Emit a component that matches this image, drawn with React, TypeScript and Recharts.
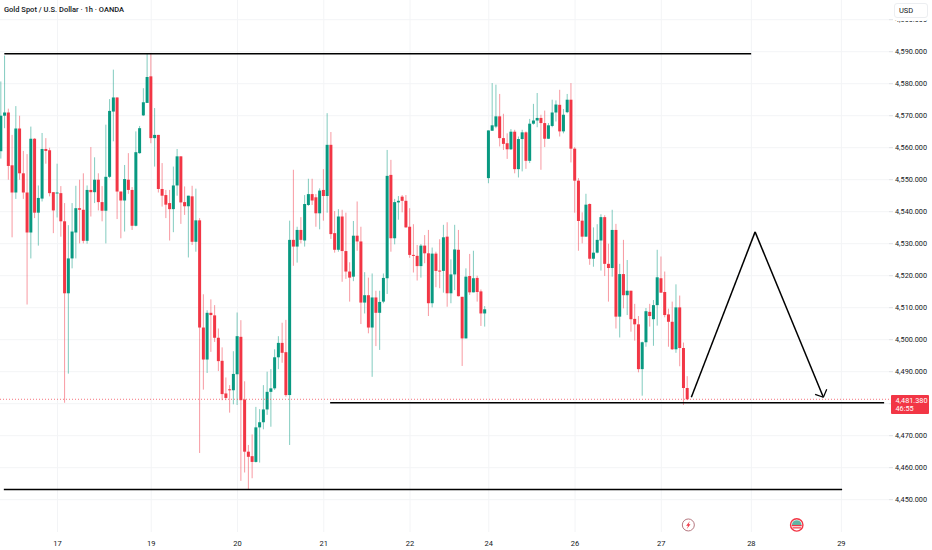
import React from "react";
import {
  Bar,
  CartesianGrid,
  ComposedChart,
  ReferenceDot,
  ReferenceLine,
  XAxis,
  YAxis,
} from "recharts";

const opens = [
  4558.9, 4570, 4571, 4554.5, 4546, 4566, 4552, 4546, 4533.5, 4562.8,
  4539.7, 4544.1, 4559.6, 4559.2, 4546.1, 4545.8, 4545.8, 4537, 4514.5, 4525.4,
  4533.5, 4541.1, 4540.6, 4530.9, 4546.8, 4546.1, 4550, 4543, 4540.3, 4550.9,
  4571.3, 4575.7, 4546.3, 4543.5, 4550, 4546.8, 4535.6, 4558.3, 4570.1, 4574,
  4582.3, 4563, 4564, 4547.1, 4545.2, 4542.7, 4540.8, 4548.2, 4557.3, 4543,
  4541.7, 4544.8, 4530.6, 4537.3, 4503.8, 4493.8, 4508.4, 4507.6, 4500.6, 4493.4,
  4483.2, 4484.5, 4484.2, 4489.2, 4500.9, 4481.3, 4465, 4463.6, 4461.8, 4472.6,
  4474.2, 4478.2, 4483.7, 4484.8, 4494.5, 4499, 4496.1, 4482.7, 4531.2, 4529.1,
  4534.3, 4531, 4542.1, 4545.5, 4544.5, 4539.5, 4546.8, 4544.9, 4560.9, 4533.3,
  4528.1, 4538.5, 4527.7, 4521.3, 4519.7, 4532.5, 4530.7, 4511.6, 4513.9, 4503.8,
  4513.2, 4508.4, 4511.9, 4519.2, 4551.5, 4531.7, 4542.9, 4544.7, 4543.4, 4535.3,
  4526.5, 4526.2, 4523, 4529.4, 4527, 4511.4, 4526.9, 4521.6, 4521.5, 4532.2,
  4514.5, 4520.4, 4528.1, 4513.4, 4500.4, 4519.9, 4514.8, 4519.3, 4515.1, 4508.2,
  4550.5, 4565.3, 4566.6, 4569.8, 4563, 4561.4, 4559.5, 4565, 4553.3, 4562.7,
  4564.8, 4555.9, 4567.5, 4568.5, 4569.3, 4567.7, 4562.8, 4566.8, 4571, 4573.4,
  4565.1, 4571.1, 4575, 4559.7, 4549.7, 4537.2, 4532.2, 4542.4, 4525.3, 4527.2,
  4531, 4538.3, 4523.7, 4522.4, 4534.3, 4507.2, 4520.5, 4513.9, 4515.3, 4506.5,
  4504.8, 4490.8, 4499.2, 4508.7, 4506.4, 4510.8, 4519.2, 4514.9, 4507.9, 4505.6,
  4497, 4510.1, 4497.4, 4484.9,
];

const highs = [
  4580.7, 4588.8, 4572.2, 4564, 4573, 4570, 4559, 4558, 4566.6, 4563,
  4548.2, 4564.6, 4563, 4560, 4546.1, 4555, 4548, 4542.7, 4535.8, 4542.7,
  4548.1, 4550, 4552, 4548.2, 4560.2, 4557, 4552, 4548, 4567.2, 4575.2,
  4584.4, 4575.7, 4546.3, 4554.6, 4558.3, 4547.7, 4565.1, 4566.8, 4578.6, 4589.4,
  4589.6, 4572.4, 4564, 4555.2, 4546.8, 4546.8, 4554.1, 4559.6, 4557.3, 4547.9,
  4545, 4548.1, 4547.2, 4538, 4514.2, 4509.2, 4512.6, 4510.8, 4503.5, 4497.6,
  4488.2, 4485.8, 4496.4, 4508.5, 4506.1, 4487, 4467.1, 4470.4, 4479, 4478.3,
  4485.8, 4490, 4490.8, 4497, 4501.1, 4505.3, 4506.2, 4537.2, 4553.1, 4535.3,
  4538.3, 4545.2, 4550.3, 4550.3, 4545.5, 4547.3, 4553.3, 4570.8, 4564.9, 4540.2,
  4540.8, 4540.6, 4539.7, 4524.2, 4537.1, 4543.2, 4535.3, 4521.1, 4519.4, 4520.7,
  4515.3, 4515.3, 4520.7, 4559.3, 4556.2, 4544, 4544.9, 4545.2, 4545.2, 4541.1,
  4536.1, 4529.6, 4529.9, 4532.7, 4534.3, 4528.8, 4527.5, 4531.4, 4535.9, 4536.7,
  4525.1, 4535.9, 4534.3, 4513.4, 4522.3, 4526.8, 4527.8, 4520, 4515.7, 4510.5,
  4565.4, 4580.2, 4579.7, 4576.8, 4570.6, 4564.5, 4565.8, 4565.6, 4563.5, 4565.6,
  4565.1, 4569, 4573.7, 4577.1, 4570.3, 4571.6, 4567.7, 4575, 4574.8, 4578.1,
  4572.1, 4576.8, 4580.2, 4560.2, 4550.5, 4539.8, 4545.6, 4542.6, 4535.1, 4536.1,
  4539.2, 4538.9, 4530, 4540.6, 4536.2, 4523.7, 4531.2, 4524.9, 4515.3, 4511.2,
  4507.4, 4499.4, 4509.9, 4511.2, 4512.4, 4528.1, 4526, 4521.3, 4509.7, 4511.9,
  4517.3, 4513.8, 4499.1, 4488.6,
];

const lows = [
  4556.6, 4566.1, 4550, 4532, 4544, 4550, 4544, 4511, 4525.4, 4538,
  4529.4, 4543.2, 4555, 4544.8, 4533.3, 4538.2, 4532.2, 4480.3, 4489.4, 4522.3,
  4525.4, 4530.1, 4530.1, 4530, 4538.5, 4542.7, 4540.4, 4537, 4530.1, 4550.5,
  4562, 4537.7, 4531.7, 4533.8, 4545.6, 4534.3, 4535.4, 4558.1, 4569.9, 4574,
  4561.4, 4554.1, 4546, 4541.6, 4538, 4531, 4533.6, 4545, 4536.2, 4539,
  4525.7, 4529.6, 4527.5, 4464.6, 4484.4, 4489.6, 4496.2, 4499.3, 4490.2, 4481.1,
  4481.1, 4477.2, 4479.8, 4479.6, 4455.9, 4458.5, 4453.3, 4456.7, 4461.6, 4461.6,
  4472, 4476.5, 4472.8, 4484.3, 4490.8, 4492.8, 4482.2, 4467.1, 4523.1, 4524.1,
  4530.1, 4529.1, 4541.8, 4542.1, 4535.3, 4534.5, 4537.2, 4539.7, 4531.5, 4527.2,
  4527.5, 4518.1, 4519, 4511.9, 4518.3, 4527.8, 4504.9, 4508.2, 4502, 4488.4,
  4498, 4496.8, 4511.4, 4514.3, 4527.5, 4529.8, 4537.5, 4539.8, 4535, 4525.6,
  4521, 4518.5, 4519.4, 4523.9, 4507.4, 4510.1, 4516.4, 4516.1, 4514.7, 4510.3,
  4511.4, 4515.5, 4513.5, 4491.8, 4500.4, 4514, 4514.8, 4511.9, 4504.3, 4504.1,
  4548.9, 4565.3, 4566.1, 4560.4, 4559.3, 4556.5, 4559.3, 4552, 4550.7, 4552.6,
  4553.4, 4555.2, 4567.2, 4566.4, 4553.1, 4560.2, 4562.7, 4566.4, 4568.2, 4563.5,
  4564.5, 4570.8, 4555.4, 4539.7, 4527.8, 4530.1, 4532.2, 4523.4, 4522.8, 4527,
  4521.6, 4519.9, 4511.9, 4519.7, 4503.5, 4500.7, 4509.8, 4507.7, 4502.5, 4499.7,
  4489.8, 4482.5, 4497.8, 4504.1, 4498.1, 4504.4, 4514.7, 4507, 4497.8, 4496.8,
  4495.9, 4491.7, 4479.6, 4481.1,
];

const closes = [
  4570, 4571, 4554.3, 4546, 4566, 4552, 4546, 4533.5, 4562.8, 4539.7,
  4544.3, 4559.6, 4559, 4545.8, 4540.4, 4546, 4537, 4514.5, 4525.4, 4533.8,
  4541.1, 4540.6, 4530.9, 4546.8, 4546.1, 4550, 4543, 4540.3, 4550.9, 4571.5,
  4575.7, 4546.3, 4543.5, 4550.2, 4546.8, 4535.6, 4558.6, 4566.1, 4574.2, 4582.1,
  4563, 4564, 4547.1, 4545, 4542.2, 4540.8, 4548.2, 4557.3, 4542.9, 4541.7,
  4545, 4530.6, 4537.3, 4503.8, 4493.8, 4508.4, 4507.7, 4500.6, 4493.3, 4483,
  4481.8, 4484.3, 4489.3, 4501.1, 4481.1, 4465, 4463.4, 4461.8, 4472.6, 4474.2,
  4478.2, 4483.7, 4484.8, 4494.5, 4499, 4495.9, 4482.7, 4531.2, 4529.1, 4534.3,
  4531.2, 4542.4, 4545.5, 4543.5, 4539.5, 4546.6, 4544.9, 4560.9, 4533, 4528.1,
  4538.5, 4527.7, 4521.3, 4519.4, 4532.5, 4530.7, 4511.6, 4513.9, 4503.8, 4513.2,
  4508.4, 4511.8, 4519.3, 4551.2, 4531.7, 4543, 4543.4, 4543.4, 4535.1, 4526.5,
  4526.2, 4523, 4529.4, 4527, 4511.4, 4526.9, 4521.5, 4521.5, 4532, 4514.5,
  4520.4, 4528.2, 4513.6, 4500.4, 4519.7, 4514.8, 4519.2, 4514.9, 4508.2, 4509.5,
  4565.4, 4567, 4569.8, 4563, 4561.2, 4559.5, 4565, 4553.3, 4562.7, 4564.8,
  4555.9, 4567.5, 4568.5, 4569.3, 4567.7, 4562.8, 4567, 4571, 4573.5, 4565.1,
  4570.3, 4575, 4559.7, 4549.7, 4537.1, 4532.2, 4542.2, 4525.3, 4527.2, 4531.2,
  4538.3, 4523.7, 4522.4, 4534.3, 4507.2, 4520.5, 4513.9, 4515.3, 4506.4, 4504.8,
  4490.8, 4499.2, 4508.9, 4507.4, 4510.8, 4519.5, 4514.7, 4507.7, 4505.6, 4497,
  4510.1, 4497.4, 4484.9, 4481.38,
];

const dayTicks = [15, 40, 63, 86, 109, 130, 153, 176, 200, 224];
const dayLabels = ["17", "19", "20", "21", "22", "24", "26", "27", "28", "29"];
const priceTicks = [
  4450, 4460, 4470, 4480, 4490, 4500, 4510, 4520, 4530, 4540, 4550, 4560, 4570,
  4580, 4590, 4600,
];
// the last price tag sits on top of this tick in the original
const hiddenPriceTick = 4480;

const lastPrice = 4481.38;
const lastPriceText = "4,481.380";
const countdownText = "46:55";

// drawn trend lines, in bar index / price
const levelStarts = [0.83, 87.7, 0.7];
const levelEnds = [199.95, 235.4, 224.2];
const levelPrices = [4589.4, 4480.3, 4453.2];

const arrowBars = [184, 201, 219.2];
const arrowPrices = [4482, 4533.7, 4482];
const headBars = [217, 220.1];
const headPrices = [4482.9, 4484.5];

const UP = "#089981";
const DOWN = "#f23645";
const TEXT = "#131722";
const FONT = "Roboto, sans-serif";

const candles = opens.map((open, i) => ({
  i,
  open,
  high: highs[i],
  low: lows[i],
  close: closes[i],
}));

function Candle(props: any) {
  const { x, y, width, height, payload } = props;
  const { open, close, high, low } = payload;
  const color = close >= open ? UP : DOWN;
  const perPrice = height / (high - low);
  const top = y + (high - Math.max(open, close)) * perPrice;
  const bodyHeight = Math.max(Math.abs(open - close) * perPrice, 1);
  const mid = x + width / 2;
  return (
    <g>
      <rect x={mid - 0.5} y={y} width={1} height={height} fill={color} opacity={0.5} />
      <rect x={x} y={top} width={width} height={bodyHeight} fill={color} />
    </g>
  );
}

function BoltIcon({ cx, cy }: any) {
  return (
    <g>
      <circle cx={cx} cy={cy} r={6} fill="#fff" stroke="#b5777f" strokeWidth={1} />
      <path
        d={`M${cx + 1.6} ${cy - 4}L${cx - 2.2} ${cy + 0.8}H${cx - 0.2}L${cx - 1.6} ${cy + 4}L${cx + 2.2} ${cy - 0.8}H${cx + 0.2}Z`}
        fill={DOWN}
      />
    </g>
  );
}

function FlagIcon({ cx, cy }: any) {
  return (
    <g>
      <circle cx={cx} cy={cy} r={6.2} fill="#fff" stroke={DOWN} strokeWidth={1.4} />
      <path d={`M${cx - 4.8} ${cy}A4.8 4.8 0 0 1 ${cx + 4.8} ${cy}Z`} fill="#5fb5a3" />
      <rect x={cx - 5} y={cy} width={10} height={1.3} fill={DOWN} />
      <rect x={cx - 4.2} y={cy + 2.3} width={8.4} height={1.2} fill={DOWN} />
    </g>
  );
}

export default function App() {
  return (
    <div style={{ position: "absolute", left: 0, top: 0, width: 932, height: 550, background: "#fff", overflow: "hidden" }}>
      <ComposedChart
        width={932}
        height={550}
        data={candles}
        margin={{ top: 0, right: 0, bottom: 0, left: 0 }}
      >
        <CartesianGrid stroke="#f3f4f6" strokeWidth={1} syncWithTicks />
        <XAxis
          dataKey="i"
          type="number"
          domain={[-0.32, 236.7]}
          allowDataOverflow
          ticks={dayTicks}
          tickFormatter={(v: number) => dayLabels[dayTicks.indexOf(v)]}
          height={18}
          axisLine={false}
          tickLine={false}
          interval={0}
          tickMargin={3}
          tick={{ fontSize: 7.5, fill: TEXT, fontFamily: FONT }}
        />
        <YAxis
          orientation="right"
          width={43}
          type="number"
          domain={[4439.9, 4606.16]}
          allowDataOverflow
          ticks={priceTicks}
          interval={0}
          axisLine={false}
          tickLine={{ stroke: "#dfe1e5" }}
          tickSize={4}
          tickMargin={2}
          tickFormatter={(v: number) =>
            v === hiddenPriceTick
              ? ""
              : v.toLocaleString("en-US", { minimumFractionDigits: 3 })
          }
          tick={{ fontSize: 7.3, fill: TEXT, fontFamily: FONT, textAnchor: "start" }}
        />
        <ReferenceLine
          y={lastPrice}
          stroke={DOWN}
          strokeOpacity={0.7}
          strokeDasharray="1 2"
        />
        <Bar
          dataKey={(d: any) => [d.low, d.high]}
          barSize={3}
          shape={<Candle />}
          isAnimationActive={false}
        />
        {levelPrices.map((price, n) => (
          <ReferenceLine
            key={n}
            segment={[
              { x: levelStarts[n], y: price },
              { x: levelEnds[n], y: price },
            ]}
            stroke="#000"
            strokeWidth={1.5}
          />
        ))}
        {arrowBars.slice(1).map((bar, n) => (
          <ReferenceLine
            key={bar}
            segment={[
              { x: arrowBars[n], y: arrowPrices[n] },
              { x: bar, y: arrowPrices[n + 1] },
            ]}
            stroke="#000"
            strokeWidth={1.5}
          />
        ))}
        {headBars.map((bar, n) => (
          <ReferenceLine
            key={bar}
            segment={[
              { x: bar, y: headPrices[n] },
              { x: arrowBars[2], y: arrowPrices[2] },
            ]}
            stroke="#000"
            strokeWidth={1.2}
          />
        ))}
        <ReferenceDot x={183.2} y={4442.1} shape={<BoltIcon />} />
        <ReferenceDot x={212.1} y={4442.1} shape={<FlagIcon />} />
      </ComposedChart>

      <div style={{ position: "absolute", left: 4, top: 5, fontFamily: FONT, fontSize: 7.5, fontWeight: 500, color: TEXT, whiteSpace: "nowrap" }}>
        Gold Spot / U.S. Dollar · 1h · OANDA
      </div>
      <div style={{ position: "absolute", left: 894, top: 3, width: 34, height: 15, boxSizing: "border-box", background: "#fff", border: "1px solid #eceef1", borderRadius: 3, boxShadow: "0 3px 0 #fff", paddingLeft: 4, fontFamily: FONT, fontSize: 7.5, lineHeight: "13px", color: TEXT }}>
        USD
      </div>
      <div style={{ position: "absolute", left: 891, top: 395, width: 38, height: 19, background: DOWN, borderRadius: 1, paddingLeft: 4.5, boxSizing: "border-box", fontFamily: FONT, fontSize: 7.3, lineHeight: "8.5px", paddingTop: 1.5, color: "#fff" }}>
        <div>{lastPriceText}</div>
        <div>{countdownText}</div>
      </div>
    </div>
  );
}
